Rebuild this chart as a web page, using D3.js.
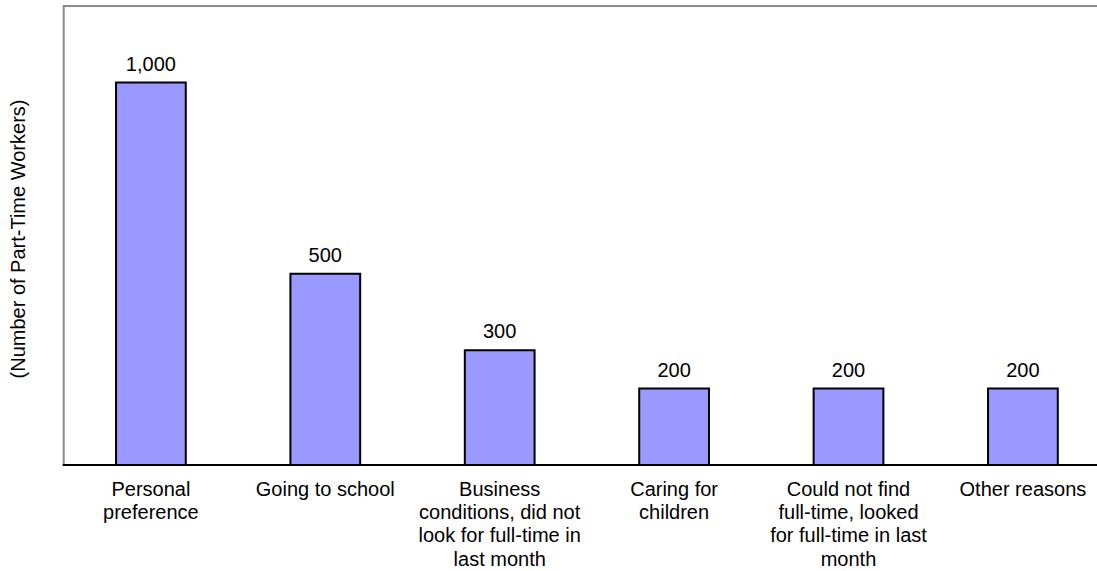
<!DOCTYPE html>
<html>
<head>
<meta charset="utf-8">
<script src="https://cdn.jsdelivr.net/npm/d3@7"></script>
<style>
  html, body { margin: 0; padding: 0; background: #ffffff; }
  svg { display: block; font-family: "Liberation Sans", Arial, Helvetica, sans-serif; }
</style>
</head>
<body>
<svg id="chart" width="1097" height="571"></svg>
<script>
// Reasons for part-time work (line breaks mark how each label wraps)
const categories = [
  "Personal\npreference",
  "Going to school",
  "Business\nconditions, did not\nlook for full-time in\nlast month",
  "Caring for\nchildren",
  "Could not find\nfull-time, looked\nfor full-time in last\nmonth",
  "Other reasons"
];
const workers = [1000, 500, 300, 200, 200, 200];
const yAxisTitle = "(Number of Part-Time Workers)";

const svg = d3.select("#chart");
const frameLeft = 63.7, frameTop = 6, baseline = 465;
const step = 174.4;

const x = d3.scaleBand()
  .domain(categories)
  .range([frameLeft, frameLeft + step * categories.length])
  .paddingInner(0.6)
  .paddingOuter(0.3);

const y = d3.scaleLinear()
  .domain([0, 1200])
  .range([baseline, frameTop]);

// Plot frame: grey top and left edges
svg.append("path")
  .attr("d", `M${frameLeft},${baseline} V${frameTop} H1100`)
  .attr("fill", "none")
  .attr("stroke", "#8a8a8a")
  .attr("stroke-width", 2);

// Bars
svg.append("g")
  .selectAll("rect")
  .data(categories)
  .join("rect")
  .attr("x", d => x(d))
  .attr("y", (d, i) => y(workers[i]))
  .attr("width", x.bandwidth())
  .attr("height", (d, i) => y(0) - y(workers[i]))
  .attr("fill", "#9999ff")
  .attr("stroke", "#000")
  .attr("stroke-width", 2);

// Baseline
svg.append("line")
  .attr("x1", frameLeft - 1).attr("x2", 1100)
  .attr("y1", y(0)).attr("y2", y(0))
  .attr("stroke", "#000")
  .attr("stroke-width", 2);

// Value labels
const fmt = d3.format(",");
svg.append("g")
  .selectAll("text")
  .data(categories)
  .join("text")
  .attr("x", d => x(d) + x.bandwidth() / 2)
  .attr("y", (d, i) => y(workers[i]) - 12)
  .attr("text-anchor", "middle")
  .attr("font-size", 20)
  .attr("fill", "#000")
  .text((d, i) => fmt(workers[i]));

// Category labels, one tspan per line
const catLabels = svg.append("g")
  .selectAll("text")
  .data(categories)
  .join("text")
  .attr("x", d => x(d) + x.bandwidth() / 2)
  .attr("y", 496)
  .attr("text-anchor", "middle")
  .attr("font-size", 20)
  .attr("fill", "#000");

catLabels.each(function(d) {
  const t = d3.select(this);
  const cx = x(d) + x.bandwidth() / 2;
  d.split("\n").forEach((line, i) => {
    t.append("tspan")
      .attr("x", cx)
      .attr("y", 496 + i * 23.2)
      .text(line);
  });
});

// Y-axis title
svg.append("text")
  .attr("transform", `translate(25,239) rotate(-90)`)
  .attr("text-anchor", "middle")
  .attr("font-size", 20)
  .attr("fill", "#000")
  .text(yAxisTitle);
</script>
</body>
</html>
